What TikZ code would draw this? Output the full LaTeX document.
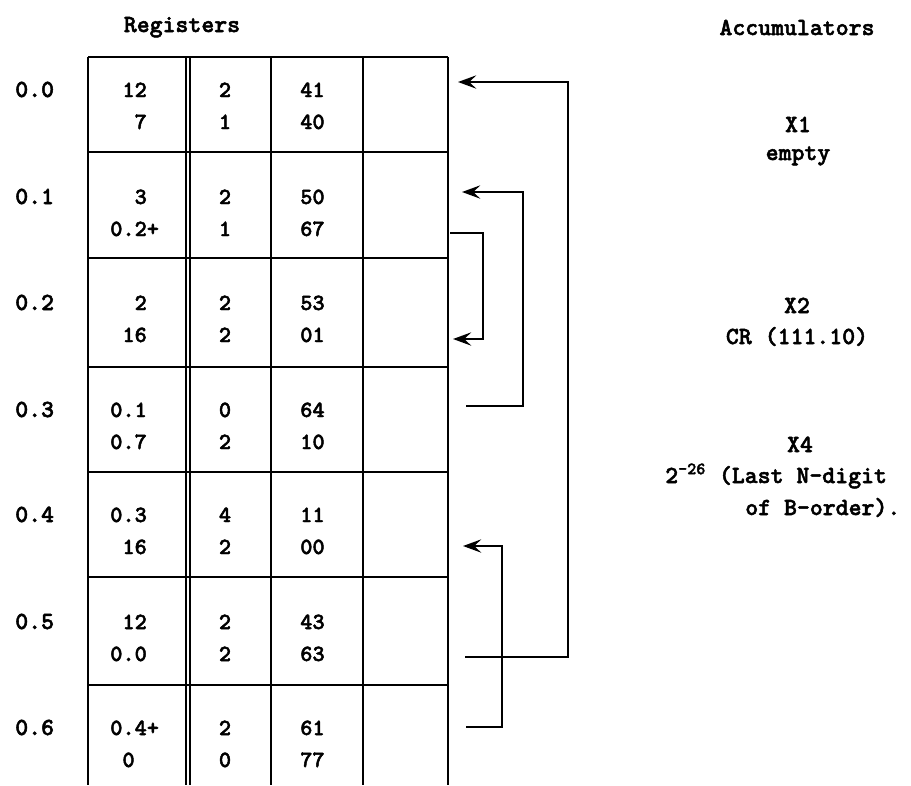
\documentclass[tikz,border=0pt]{standalone}
\usepackage{fontspec}
\usetikzlibrary{arrows.meta}

\newfontfamily\twfont{lmmonolt10-bold.otf}[FakeBold=2]

\newcommand*{\gridleft}{88}
\newcommand*{\gridright}{448}
\newcommand*{\gridtop}{57}
\newcommand*{\gridbot}{785}
\newcommand*{\pad}{\phantom{0}}

\begin{document}
\begin{tikzpicture}
[
	x=0.025cm, y=-0.025cm,
	rule/.style={line width=1.4pt},
	conn/.style={line width=1.2pt,-{Stealth[length=13pt,width=9.5pt,inset=5pt]}},
	cell/.style={font=\fontsize{16.5}{20}\selectfont\twfont,inner sep=0pt},
	side/.style={font=\fontsize{17.5}{21}\selectfont\twfont,inner sep=0pt,anchor=base}
]

	\useasboundingbox (0,0) rectangle (911,785);

	% grid
	\foreach \y in {57,152,258,367,472,577,685} {
		\draw[rule] (\gridleft,\y) -- (\gridright,\y);
	}
	\foreach \x in {88,186,190,271,363,448} {
		\draw[rule] (\x,\gridtop) -- (\x,\gridbot);
	}

	% headings
	\node[side] (regs) at (182,32) {Registers};
	\node[side] (accs) at (797,35) {Accumulators};

	% register contents
	\foreach \r/\yb/\ta/\tb/\ma/\mb/\na/\nb in {
		0/97/{\pad12}/{\pad\pad7}/2/1/41/40,
		1/204/{\pad\pad3}/{0.2+}/2/1/50/67,
		2/310/{\pad\pad2}/{\pad16}/2/2/53/01,
		3/417/{0.1}/{0.7}/0/2/64/10,
		4/522/{0.3}/{\pad16}/4/2/11/00,
		5/629/{\pad12}/{0.0}/2/2/43/63,
		6/735/{0.4+}/{\pad0}/2/0/61/77} {
		\node[side,anchor=base west] (lbl\r) at (15,\yb) {0.\r};
		\node[cell,anchor=base west] (ta\r) at (110,\yb) {\ta};
		\node[cell,anchor=base west] (tb\r) at (110,\yb+32) {\tb};
		\node[cell,anchor=base] (ma\r) at (225,\yb) {\ma};
		\node[cell,anchor=base] (mb\r) at (225,\yb+32) {\mb};
		\node[cell,anchor=base west] (na\r) at (300,\yb) {\na};
		\node[cell,anchor=base west] (nb\r) at (300,\yb+32) {\nb};
	}

	% accumulators
	\node[side] (xone) at (798,132) {X1};
	\node[side] (xonev) at (798,160) {empty};
	\node[side] (xtwo) at (797,313) {X2};
	\node[side] (xtwov) at (797,344) {CR (111.10)};
	\node[side] (xfour) at (800,452) {X4};
	\node[side,anchor=base west] (xfourv) at (665,483) {2\textsuperscript{-26} (Last N-digit};
	\node[side,anchor=base west] (xfourw) at (745,515) {of B-order).};

	% transfer arrows
	\coordinate (src1) at (450,233);
	\coordinate (dst2) at (453,339);
	\coordinate (src3) at (466,406);
	\coordinate (dst1) at (462,192);
	\coordinate (src5) at (465,657);
	\coordinate (dst0) at (458,82);
	\coordinate (src6) at (466,727);
	\coordinate (dst4) at (463,546);

	\draw[conn] (src5) -- ++(103,0) |- (dst0);
	\draw[conn] (src3) -- ++(57,0) |- (dst1);
	\draw[conn] (src1) -- ++(33,0) |- (dst2);
	\draw[conn] (src6) -- ++(36,0) |- (dst4);

\end{tikzpicture}
\end{document}
